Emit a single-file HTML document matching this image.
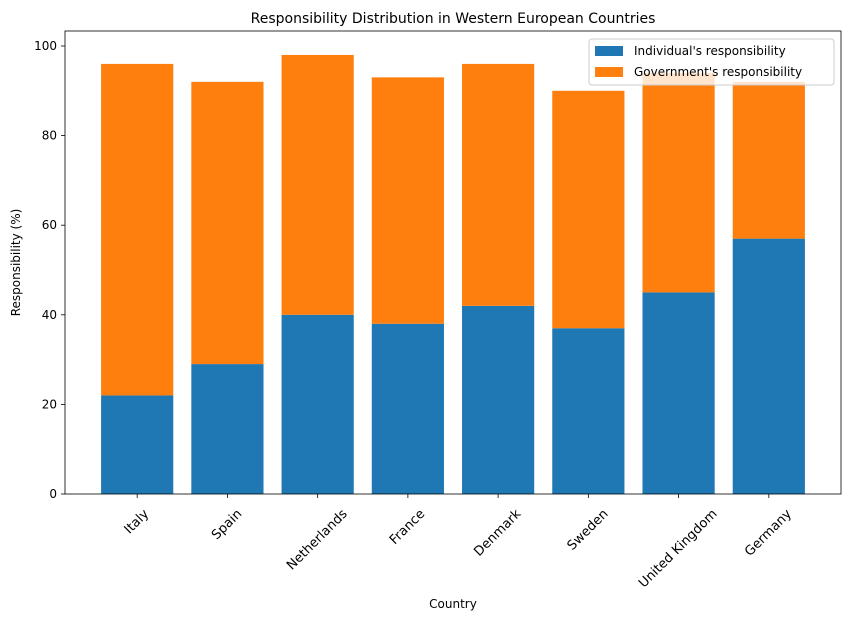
<!DOCTYPE html>
<html><head><meta charset="utf-8"><style>
body{margin:0;background:#fff;font-family:"Liberation Sans","DejaVu Sans",sans-serif;}
</style></head><body>
<svg width="850" height="622" viewBox="0 0 850 622" font-family="DejaVu Sans, Liberation Sans, sans-serif">
<g id="plot"></g>
</svg>
<script>
const categories=["Italy","Spain","Netherlands","France","Denmark","Sweden","United Kingdom","Germany"];
const individual=[22,29,40,38,42,37,45,57];
const total=[96,92,98,93,96,90,94,92];
const yTicks=[0,20,40,60,80,100];
const NS="http://www.w3.org/2000/svg";
const L=65,R=841,T=31,B=494;
const x=i=>L+(i+0.8)*(R-L)/8.6;
const y=v=>B-v*4.48;
const bw=0.8*(R-L)/8.6;
const g=document.getElementById('plot');
function el(t,a,txt){const e=document.createElementNS(NS,t);for(const k in a)e.setAttribute(k,a[k]);if(txt!==undefined)e.textContent=txt;g.appendChild(e);return e;}
categories.forEach((c,i)=>{
  const b1=el('rect',{x:x(i)-bw/2,y:y(individual[i]),width:bw,height:B-y(individual[i]),fill:'#1f77b4'});
  
  
  const b2=el('rect',{x:x(i)-bw/2,y:y(total[i]),width:bw,height:y(individual[i])-y(total[i]),fill:'#ff7f0e'});
  
  
  el('line',{x1:x(i),x2:x(i),y1:B,y2:B+4,stroke:'#000','stroke-width':0.8});
  const t=el('text',{x:0,y:4.5,'font-size':13,'text-anchor':'middle'},c);
  const w=t.getComputedTextLength();
  const cy=B+12+(w*0.707+15*0.707)/2;
  t.setAttribute('transform',`translate(${x(i)-1} ${cy}) rotate(-45)`);
  
  
});
yTicks.forEach(v=>{
  el('line',{x1:L-4,x2:L,y1:y(v),y2:y(v),stroke:'#000','stroke-width':0.8});
  const t=el('text',{x:L-8,y:y(v)+4,'font-size':12,'text-anchor':'end'},v);
  
  
});
el('rect',{x:L,y:T,width:R-L,height:B-T,fill:'none',stroke:'#000','stroke-width':0.8});
const ti=el('text',{x:(L+R)/2,y:23,'font-size':14,'text-anchor':'middle'},'Responsibility Distribution in Western European Countries');

const xt=el('text',{x:(L+R)/2,y:608,'font-size':12,'text-anchor':'middle'},'Country');

const yt=el('text',{x:20,y:(T+B)/2,'font-size':12,'text-anchor':'middle',transform:`rotate(-90 20 ${(T+B)/2})`},'Responsibility (%)');

const lg=el('rect',{x:589,y:39,width:245,height:46,rx:3,fill:'#fff','fill-opacity':0.8,stroke:'#ccc'});

el('rect',{x:595,y:46,width:28,height:10,fill:'#1f77b4'});
el('rect',{x:595,y:67,width:28,height:10,fill:'#ff7f0e'});
const l1=el('text',{x:634,y:55,'font-size':12},"Individual's responsibility");

const l2=el('text',{x:634,y:76,'font-size':12},"Government's responsibility");

</script>
</body></html>
